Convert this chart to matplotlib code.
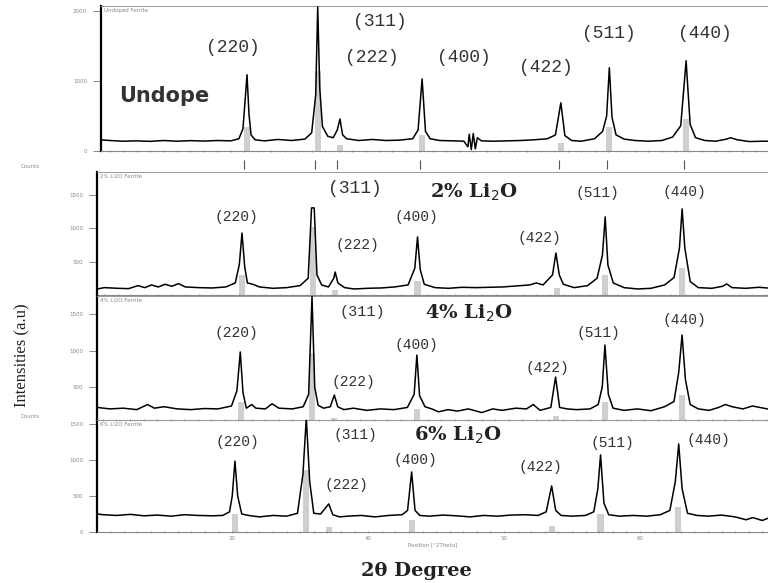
import matplotlib
matplotlib.use("Agg")
import matplotlib.pyplot as plt
from matplotlib.ticker import MultipleLocator

# ------------------------------
# Data (2theta in degrees, intensity in counts)
# ------------------------------
undoped_tt = [19.4, 20.0, 21.0, 22.0, 23.0, 24.0, 25.0, 26.0, 27.0, 28.0, 29.0, 29.6, 29.9, 30.05,
              30.2, 30.35, 30.5, 30.8, 31.5, 32.5, 33.5, 34.5, 35.0, 35.3, 35.45, 35.6, 35.8, 36.2,
              36.6, 36.9, 37.1, 37.3, 37.6, 38.5, 39.5, 40.5, 41.5, 42.5, 42.9, 43.2, 43.45, 43.8,
              44.5, 45.5, 46.3, 46.6, 46.7, 46.85, 47.0, 47.15, 47.3, 47.6, 48.5, 49.5, 50.5, 51.5,
              52.5, 53.1, 53.5, 53.8, 54.3, 55.0, 56.0, 56.6, 56.9, 57.1, 57.3, 57.6, 58.2, 59.0,
              60.0, 61.0, 61.8, 62.4, 62.8, 63.1, 63.5, 64.2, 65.0, 65.8, 66.1, 66.6, 67.5, 68.5, 68.9]
undoped_cts = [160, 150, 140, 145, 138, 150, 140, 148, 142, 150, 145, 175, 320, 700,
               1090, 520, 230, 160, 145, 165, 150, 170, 260, 800, 2060, 900, 350, 210,
               190, 300, 457, 230, 175, 150, 165, 150, 155, 175, 300, 1030, 280, 175,
               150, 145, 140, 60, 240, 20, 250, 30, 190, 145, 140, 145, 150, 160,
               175, 230, 690, 220, 150, 140, 175, 280, 500, 1190, 480, 230, 170, 150,
               140, 150, 200, 360, 1290, 380, 190, 150, 140, 170, 190, 160, 135, 140, 140]

li2_tt = [19.5, 20.0, 21.0, 21.8, 22.5, 23.0, 23.5, 24.0, 24.5, 25.0, 25.5, 26.0, 27.0, 28.0,
          29.0, 29.7, 30.0, 30.2, 30.4, 30.6, 31.0, 31.5, 32.5, 33.5, 34.5, 35.1, 35.35, 35.55,
          35.75, 36.1, 36.6, 37.0, 37.1, 37.3, 37.8, 38.5, 39.5, 40.5, 41.5, 42.5, 43.0, 43.2,
          43.4, 43.7, 44.5, 45.5, 46.5, 47.5, 48.5, 49.5, 50.5, 51.5, 52.0, 52.5, 53.2, 53.45,
          53.7, 54.0, 54.8, 55.8, 56.5, 56.9, 57.1, 57.3, 57.7, 58.5, 59.5, 60.5, 61.5, 62.2,
          62.6, 62.8, 63.0, 63.4, 64.0, 65.0, 65.8, 66.1, 66.5, 67.5, 68.5, 69.1]
li2_cts = [90, 110, 100, 95, 140, 110, 150, 120, 160, 130, 170, 120, 110, 105,
           120, 180, 450, 925, 420, 180, 160, 120, 100, 110, 140, 250, 1300, 1300,
           300, 150, 120, 250, 343, 180, 110, 90, 100, 105, 120, 150, 400, 866,
           380, 160, 110, 100, 115, 110, 115, 120, 135, 150, 180, 150, 300, 627,
           300, 160, 110, 140, 250, 600, 1165, 450, 180, 110, 90, 100, 150, 260,
           700, 1284, 700, 200, 110, 100, 130, 165, 110, 100, 115, 105]

li4_tt = [19.6, 20.5, 21.5, 22.5, 23.3, 23.8, 24.5, 25.5, 26.5, 27.5, 28.5, 29.5, 29.9, 30.15,
          30.35, 30.6, 31.0, 31.3, 32.0, 32.5, 33.0, 34.0, 34.8, 35.2, 35.45, 35.65, 35.9, 36.3,
          36.8, 37.1, 37.35, 37.8, 38.5, 39.5, 40.5, 41.5, 42.5, 43.0, 43.2, 43.4, 43.8, 44.3,
          44.8, 45.5, 46.2, 47.0, 48.0, 48.8, 49.5, 50.5, 51.3, 51.8, 52.3, 53.1, 53.45, 53.75,
          54.3, 55.0, 56.0, 56.6, 56.9, 57.1, 57.35, 57.7, 58.5, 59.5, 60.5, 61.5, 62.2, 62.55,
          62.8, 63.05, 63.4, 64.0, 64.8, 65.5, 66.0, 66.5, 67.3, 68.0, 69.1]
li4_cts = [220, 200, 210, 190, 260, 210, 230, 200, 190, 205, 200, 240, 450, 980,
           420, 210, 260, 210, 200, 270, 210, 200, 230, 400, 1740, 500, 250, 210,
           230, 390, 230, 190, 210, 180, 200, 190, 220, 400, 938, 380, 230, 200,
           160, 190, 170, 200, 150, 200, 180, 210, 200, 260, 180, 220, 637, 220,
           200, 190, 200, 260, 500, 1075, 400, 210, 180, 200, 175, 230, 300, 700,
           1212, 600, 260, 200, 180, 220, 260, 230, 200, 240, 200]

li6_tt = [20.1, 20.5, 21.5, 22.5, 23.5, 24.5, 25.5, 26.5, 27.5, 28.5, 29.3, 29.8, 30.0, 30.2,
          30.4, 30.7, 31.2, 32.0, 33.0, 34.0, 34.8, 35.2, 35.45, 35.7, 36.0, 36.5, 37.1, 37.4,
          37.9, 38.5, 39.5, 40.5, 41.5, 42.5, 42.9, 43.2, 43.45, 43.8, 44.5, 45.5, 46.5, 47.5,
          48.5, 49.5, 50.5, 51.5, 52.5, 53.1, 53.5, 53.8, 54.2, 55.0, 56.0, 56.6, 56.9, 57.1,
          57.35, 57.7, 58.5, 59.5, 60.5, 61.5, 62.2, 62.6, 62.85, 63.1, 63.5, 64.2, 65.0, 66.0,
          67.0, 67.8, 68.3, 69.0, 69.4]
li6_cts = [250, 240, 230, 245, 225, 235, 220, 240, 230, 225, 230, 280, 500, 985,
           500, 250, 230, 210, 230, 220, 260, 800, 1585, 700, 260, 250, 390, 240,
           210, 220, 230, 210, 230, 240, 300, 834, 300, 230, 220, 235, 225, 210,
           230, 220, 235, 240, 230, 280, 640, 300, 230, 220, 230, 280, 600, 1070,
           400, 240, 220, 230, 220, 240, 300, 700, 1223, 600, 260, 230, 220, 235,
           210, 170, 200, 160, 190]

# reference (stick) pattern of the spinel ferrite
ref_pos = [30.2, 35.45, 37.1, 43.2, 53.5, 57.1, 62.8]
ref_rel = [30, 100, 8, 20, 10, 30, 40]
hkl = ["(220)", "(311)", "(222)", "(400)", "(422)", "(511)", "(440)"]

samples = ["Undope", "2% Li$_2$O", "4% Li$_2$O", "6% Li$_2$O"]
headers = ["Undoped Ferrite", "2% Li2O Ferrite", "4% Li2O Ferrite", "6% Li2O Ferrite"]

# ------------------------------
# Layout (pixel boxes of the scanned panels)
# ------------------------------
W, H = 768, 583
fig = plt.figure(figsize=(W / 100, H / 100), dpi=100)


def box(left, top, right, bottom):
    return fig.add_axes([left / W, 1 - bottom / H, (right - left) / W, (bottom - top) / H])


def ftext(x, y, s, **kw):
    fig.text(x / W, 1 - y / H, s, ha="center", va="center", **kw)


panels = [
    # tt, cts, box, xlim, ylim, yticks
    (undoped_tt, undoped_cts, (101, 5.5, 768, 151), (19.36, 68.88), (0, 2080), [0, 1000, 2000]),
    (li2_tt, li2_cts, (97, 172, 768, 295), (19.46, 69.16), (0, 1836), [500, 1000, 1500]),
    (li4_tt, li4_cts, (97, 296, 768, 420), (19.56, 69.15), (48, 1747), [500, 1000, 1500]),
    (li6_tt, li6_cts, (97, 420, 768, 532), (20.05, 69.42), (0, 1556), [0, 500, 1000, 1500]),
]

for i, (tt, cts, b, xl, yl, yt) in enumerate(panels):
    ax = box(*b)
    top = yl[1]
    ax.bar(ref_pos, [r / 100 * top * 0.55 for r in ref_rel], width=0.45,
           color="#cfcfcf", zorder=1)
    ax.plot(tt, cts, color="black", lw=1.1, zorder=3)
    ax.set_xlim(*xl)
    ax.set_ylim(*yl)
    ax.set_yticks(yt)
    ax.set_yticklabels([str(v) for v in yt])
    ax.tick_params(axis="y", length=6, width=0.6, color="#777777", labelsize=4,
                   labelcolor="#888888", pad=4)
    ax.xaxis.set_minor_locator(MultipleLocator(1))
    ax.xaxis.set_major_locator(MultipleLocator(10))
    ax.tick_params(axis="x", which="both", direction="inout", length=2, width=0.5,
                   color="#777777")
    if i == 3:
        ax.tick_params(axis="x", labelsize=4, labelcolor="#888888", pad=2)
        ax.set_xlabel("Position [\u00b02Theta]", fontsize=4, color="#888888", labelpad=1)
    else:
        ax.set_xticklabels([])
    for s in ["right"]:
        ax.spines[s].set_visible(False)
    ax.spines["left"].set_linewidth(1.6)
    ax.spines["left"].set_color("black")
    ax.spines["bottom"].set_color("#888888")
    ax.spines["bottom"].set_linewidth(0.8)
    ax.spines["top"].set_color("#999999")
    ax.spines["top"].set_linewidth(0.7)
    ax.set_facecolor("none")
    ax.text(0.005, 0.985, headers[i], transform=ax.transAxes, fontsize=4,
            color="#888888", va="top", ha="left")

# stick marks between the first two panels
strip = box(97, 158, 768, 172)
strip.vlines(ref_pos, 0.2, 0.85, color="#555555", lw=0.8)
strip.set_xlim(19.29, 69.0)
strip.set_ylim(0, 1)
strip.axis("off")

# ------------------------------
# Texts
# ------------------------------
mono = "Liberation Mono"
# peak labels: (x px, y px, size) per panel, in hkl order
label_pos = [
    [(233, 48, 13), (380, 22, 13), (372, 57, 13), (464, 57, 13), (546, 68, 13), (609, 33, 13), (705, 33, 13)],
    [(236, 217, 10.5), (355, 188, 13), (357, 245, 10.5), (416, 217, 10.5), (539, 238, 10.5), (597, 193, 10.5), (684, 192, 10.5)],
    [(236, 333, 10.5), (362, 312, 11), (353, 382, 10.5), (416, 345, 10.5), (547, 368, 10.5), (598, 333, 10.5), (684, 320, 10.5)],
    [(237, 442, 10.5), (355, 435, 10.5), (346, 485, 10.5), (415, 460, 10.5), (540, 467, 10.5), (612, 443, 10.5), (708, 440, 10.5)],
]
for row in label_pos:
    for lab, (x, y, fs) in zip(hkl, row):
        ftext(x, y, lab, fontsize=fs, family=mono, color="#333333")

ftext(164, 96, samples[0], fontsize=15, weight="bold", family="DejaVu Sans", color="#333333")
ftext(474, 192, samples[1], fontsize=14, weight="bold", family="DejaVu Serif", color="#222222")
ftext(469, 313, samples[2], fontsize=14, weight="bold", family="DejaVu Serif", color="#222222")
ftext(458, 435, samples[3], fontsize=14, weight="bold", family="DejaVu Serif", color="#222222")

ftext(30, 167, "Counts", fontsize=4, color="#888888")
ftext(30, 417, "Counts", fontsize=4, color="#888888")

ftext(22, 355, "Intensities (a.u)", fontsize=12, family="Liberation Serif",
      rotation=90, color="#222222")
ftext(416, 571, "2\u03b8 Degree", fontsize=14, weight="bold", family="DejaVu Serif",
      color="#222222")

fig.savefig("out.png", dpi=100, facecolor="white")
